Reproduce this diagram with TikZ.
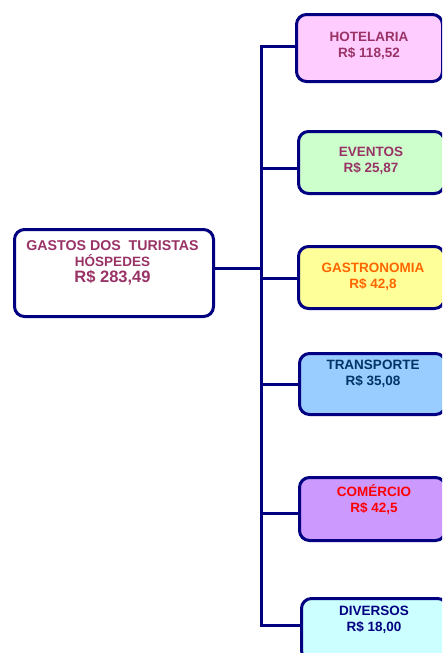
\documentclass[tikz,border=0pt]{standalone}
\usepackage{fontspec}
\setmainfont{Liberation Sans}
\definecolor{navy}{HTML}{000080}
\definecolor{plum}{HTML}{993366}
\definecolor{pinkfill}{HTML}{FFCCFF}
\definecolor{greenfill}{HTML}{CCFFCC}
\definecolor{yellowfill}{HTML}{FFFF99}
\definecolor{bluefill}{HTML}{99CCFF}
\definecolor{lilacfill}{HTML}{CC99FF}
\definecolor{cyanfill}{HTML}{CCFFFF}
\definecolor{orangetext}{HTML}{FF6600}
\definecolor{darkblue}{HTML}{003366}
\tikzset{
  card/.style={draw=navy, line width=3pt, rounded corners=10pt, anchor=north west,
    inner sep=0pt, minimum width=146pt},
  cardtext/.style={align=center, inner sep=0pt, font=\bfseries\fontsize{13.5}{16}\selectfont},
  wire/.style={draw=navy, line width=3pt}
}
\begin{document}
\begin{tikzpicture}[x=1pt,y=-1pt]
\useasboundingbox (0,0) rectangle (442,653);
\clip (0,0) rectangle (442,653);

% root box
\node[card, fill=white, minimum width=199pt, minimum height=87pt] (root) at (13,228) {};
\node[cardtext, text=plum, anchor=north] (roott) at (112.5,240)
  {\fontsize{14.2}{17.5}\selectfont GASTOS DOS\ \ TURISTAS\\HÓSPEDES\\[0.5pt]{\fontsize{16.5}{18}\selectfont R\$ 283,49}};

% category boxes
\node[card, fill=pinkfill,   minimum height=67pt] (hot) at (295,13)  {};
\node[card, fill=greenfill,  minimum height=62pt] (eve) at (297,130) {};
\node[card, fill=yellowfill, minimum height=62pt] (gas) at (297,245) {};
\node[card, fill=bluefill,   minimum height=61pt] (tra) at (298,352) {};
\node[card, fill=lilacfill,  minimum height=63pt] (com) at (298,476) {};
\node[card, fill=cyanfill,   minimum height=62pt] (div) at (300,597) {};

\node[cardtext, text=plum]       (hott) at (369,45.5)  {HOTELARIA\\R\$ 118,52};
\node[cardtext, text=plum]       (evet) at (371,161)   {EVENTOS\\R\$ 25,87};
\node[cardtext, text=orangetext] (gast) at (373,276.5) {GASTRONOMIA\\R\$ 42,8};
\node[cardtext, text=darkblue]   (trat) at (373,374)   {TRANSPORTE\\R\$ 35,08};
\node[cardtext, text=red]        (comt) at (374,500)   {COMÉRCIO\\R\$ 42,5};
\node[cardtext, text=navy]       (divt) at (374,620)   {DIVERSOS\\R\$ 18,00};

% trunk and branches
\coordinate (b1) at (261,46.5);
\coordinate (b2) at (261,168);
\coordinate (b3) at (261,278);
\coordinate (b4) at (261,384);
\coordinate (b5) at (261,513);
\coordinate (b6) at (261,625);
\coordinate (mid) at (261,268);
\draw[wire] (root.east |- mid) -- (mid);
\draw[wire, line join=miter] (b1 -| hot.west) -- (b1) -- (b6) -- (b6 -| div.west);
\foreach \b/\n in {b2/eve, b3/gas, b4/tra, b5/com}
  \draw[wire] (\b) -- (\b -| \n.west);
\end{tikzpicture}
\end{document}
